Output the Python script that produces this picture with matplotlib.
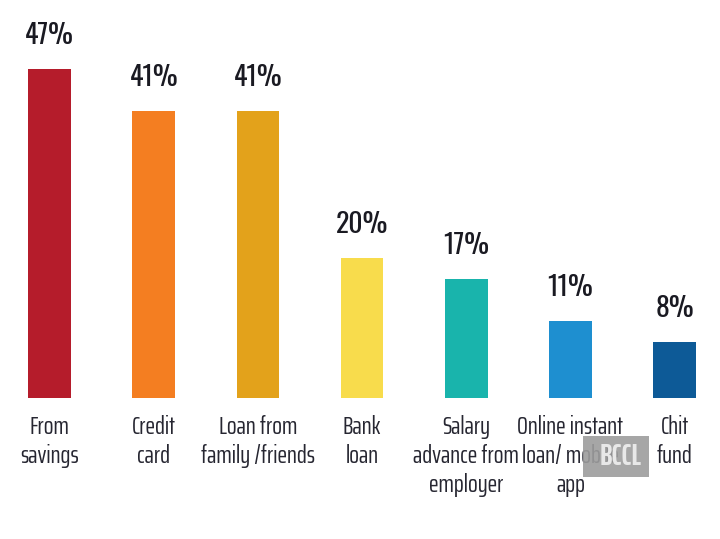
import matplotlib
matplotlib.use("Agg")
import matplotlib.pyplot as plt
from matplotlib.patches import Rectangle

categories = ["From\nsavings", "Credit\ncard", "Loan from\nfamily /friends", "Bank\nloan",
              "Salary\nadvance from\nemployer", "Online instant\nloan/ mobile\napp", "Chit\nfund"]
values = [47, 41, 41, 20, 17, 11, 8]
colors = ["#b51c2b", "#f47e21", "#e3a21b", "#f8dc4c", "#19b4ac", "#1e8fd0", "#0d5a97"]

cat_font = ["Saira ExtraCondensed", "DejaVu Sans"]
val_font = ["Oswald", "DejaVu Sans"]

W, H = 720, 539
fig = plt.figure(figsize=(7.2, 5.39), dpi=100)
ax = fig.add_axes([0, 0, 1, 1])
x = list(range(len(values)))
ax.bar(x, values, width=0.41, color=colors)
ax.set_xlim(-0.475, 6.435)
ax.set_ylim(-20.1, 56.9)
ax.axis("off")

for xi, v in zip(x, values):
    ax.annotate(f"{v}%", (xi, v), xytext=(0, 18.5), textcoords="offset points",
                ha="center", va="baseline", fontsize=20, fontweight="bold",
                family=val_font, color="#1a1a22")
for xi, c in zip(x, categories):
    ax.annotate(c, (xi, 0), xytext=(0, -12), textcoords="offset points",
                ha="center", va="top", fontsize=18.5, family=cat_font,
                color="#262631", linespacing=1.27)

# watermark
fig.patches.append(Rectangle((583 / W, 1 - 477 / H), 66 / W, 41 / H, transform=fig.transFigure,
                             facecolor="#9d9d9d", edgecolor="none", alpha=0.9, zorder=10))
fig.text(621 / W, 1 - 456.5 / H, "BCCL", ha="center", va="center", fontsize=22,
         family=cat_font, color="#e8e8e8", fontweight="bold", zorder=11)

fig.savefig("out.png", dpi=100)
